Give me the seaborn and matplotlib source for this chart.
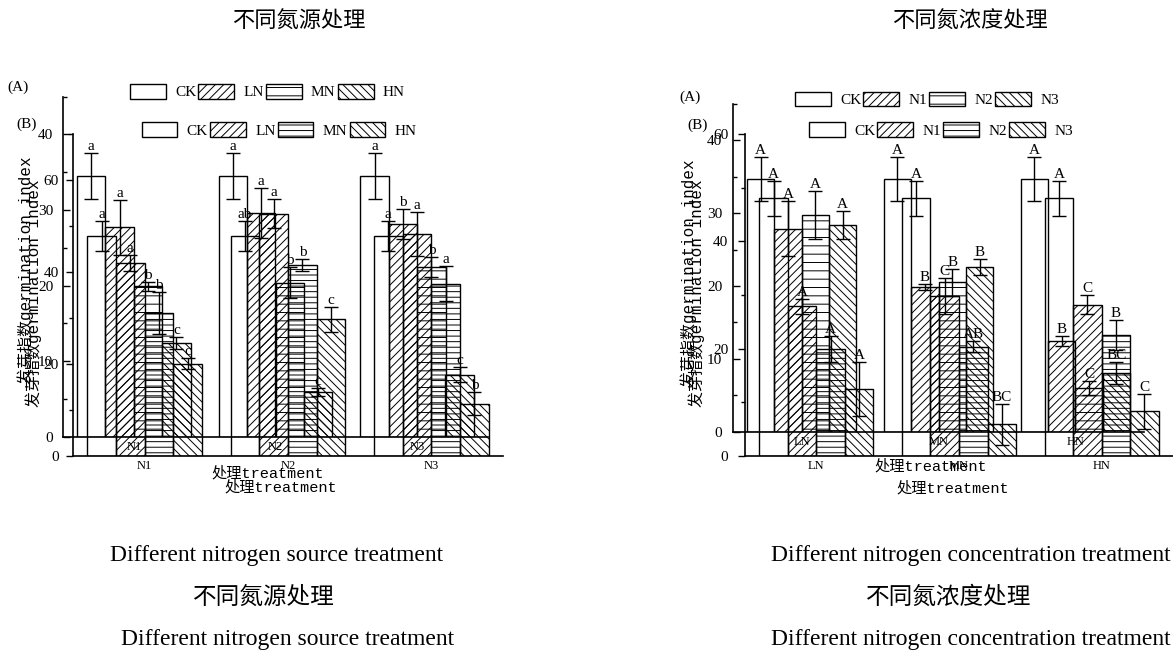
import numpy as np
import pandas as pd
import matplotlib
matplotlib.use("Agg")
import matplotlib.pyplot as plt
import seaborn as sns
from matplotlib.patches import Patch
from matplotlib.ticker import MultipleLocator

# ---------------- data ----------------
# left panel: different nitrogen source (groups N1..N3, treatments CK/LN/MN/HN)
src_groups = ["N1", "N2", "N3"]
src_treats = ["CK", "LN", "MN", "HN"]
# (A) layer
srcA_CK = [34.5, 34.5, 34.5]
srcA_LN = [27.7, 29.6, 28.2]
srcA_MN = [19.9, 20.4, 22.5]
srcA_HN = [12.4, 5.9, 8.2]
srcA_err_CK = [3.0, 3.0, 3.0]
srcA_err_LN = [3.6, 3.3, 2.0]
srcA_err_MN = [0.6, 2.0, 1.3]
srcA_err_HN = [0.8, 0.5, 1.0]
srcA_lab_CK = ["a", "a", "a"]
srcA_lab_LN = ["a", "a", "b"]
srcA_lab_MN = ["b", "b", "b"]
srcA_lab_HN = ["c", "c", "c"]
# (B) layer
srcB_CK = [47.9, 47.9, 47.9]
srcB_LN = [42.0, 52.7, 48.3]
srcB_MN = [31.0, 41.5, 37.5]
srcB_HN = [20.0, 29.7, 11.3]
srcB_err_CK = [3.3, 3.3, 3.3]
srcB_err_LN = [1.7, 3.2, 4.7]
srcB_err_MN = [4.6, 1.3, 3.8]
srcB_err_HN = [1.2, 2.7, 2.5]
srcB_lab_CK = ["a", "ab", "a"]
srcB_lab_LN = ["a", "a", "a"]
srcB_lab_MN = ["b", "b", "a"]
srcB_lab_HN = ["c", "c", "b"]

# right panel: different nitrogen concentration (groups LN/MN/HN, treatments CK/N1/N2/N3)
conc_groups = ["LN", "MN", "HN"]
conc_treats = ["CK", "N1", "N2", "N3"]
concA_CK = [34.7, 34.7, 34.7]
concA_N1 = [27.9, 19.9, 12.4]
concA_N2 = [29.75, 20.5, 6.0]
concA_N3 = [28.4, 22.6, 8.1]
concA_err_CK = [3.0, 3.0, 3.0]
concA_err_N1 = [3.8, 0.4, 0.7]
concA_err_N2 = [3.3, 1.9, 0.9]
concA_err_N3 = [1.9, 1.1, 1.5]
concA_lab_CK = ["A", "A", "A"]
concA_lab_N1 = ["A", "B", "B"]
concA_lab_N2 = ["A", "B", "C"]
concA_lab_N3 = ["A", "B", "BC"]
concB_CK = [48.0, 48.0, 48.0]
concB_N1 = [27.9, 29.8, 28.2]
concB_N2 = [19.9, 20.4, 22.6]
concB_N3 = [12.5, 5.9, 8.3]
concB_err_CK = [3.3, 3.3, 3.3]
concB_err_N1 = [1.4, 3.4, 1.8]
concB_err_N2 = [2.4, 1.0, 2.8]
concB_err_N3 = [5.1, 3.8, 3.3]
concB_lab_CK = ["A", "A", "A"]
concB_lab_N1 = ["A", "C", "C"]
concB_lab_N2 = ["A", "AB", "B"]
concB_lab_N3 = ["A", "BC", "C"]

ylabel_text = "发芽指数germination index"
xlabel_text = "处理treatment"

# ---------------- style ----------------
sns.set_theme(style="ticks")
plt.rcParams['font.family'] = ['Liberation Serif', 'Noto Sans CJK SC']
plt.rcParams['hatch.linewidth'] = 0.7
plt.rcParams['axes.unicode_minus'] = False
for k in ("text.color", "axes.labelcolor", "xtick.color", "ytick.color",
          "axes.edgecolor", "legend.labelcolor"):
    plt.rcParams[k] = "black"

W, H = 1173, 654
fig = plt.figure(figsize=(W / 100, H / 100), dpi=100)
fig.patch.set_facecolor("white")
MONO = ['Liberation Mono', 'Noto Sans CJK SC']
CJK = ['Noto Sans CJK SC', 'DejaVu Sans']


def px_axes(left, top, right, bottom):
    ax = fig.add_axes([left / W, 1 - bottom / H, (right - left) / W, (bottom - top) / H])
    ax.set_facecolor("none")
    return ax


def draw_layer(ax, groups, treats, vals, errs, labs, hatches, ylim, major, minor,
               ydir, ylen, ypad, xl, yl):
    rows = []
    for t, v in zip(treats, vals):
        for g, val in zip(groups, v):
            rows.append({"group": g, "treatment": t, "value": val})
    df = pd.DataFrame(rows)
    sns.barplot(data=df, x="group", y="value", hue="treatment", order=groups,
                hue_order=treats, palette=["white"] * len(treats), saturation=1,
                edgecolor="black", linewidth=1.0, errorbar=None, legend=False,
                width=0.8, ax=ax)
    for cont, h, e_list, l_list in zip(ax.containers, hatches, errs, labs):
        for bar, e, lab in zip(cont, e_list, l_list):
            bar.set_facecolor("none")
            bar.set_edgecolor("black")
            bar.set_hatch(h)
            x = bar.get_x() + bar.get_width() / 2
            y = bar.get_height()
            ax.errorbar(x, y, yerr=e, fmt="none", ecolor="black", elinewidth=1.0,
                        capsize=5, capthick=1.0, zorder=5)
            ax.annotate(lab, (x, y + e), xytext=(0, 0), textcoords="offset points",
                        ha="center", va="bottom", fontsize=11, color="black", zorder=6)
    ax.set_xlim(-0.5, len(groups) - 0.5)
    ax.set_ylim(*ylim)
    ax.yaxis.set_major_locator(MultipleLocator(major))
    ax.yaxis.set_minor_locator(MultipleLocator(minor))
    sns.despine(ax=ax)
    for s in ("left", "bottom"):
        ax.spines[s].set_linewidth(1.2)
        ax.spines[s].set_color("black")
    ax.tick_params(axis="y", which="major", left=True, direction=ydir, length=ylen,
                   width=1, pad=ypad, labelsize=11, colors="black")
    ax.tick_params(axis="y", which="minor", left=True, direction=ydir, length=3, width=1,
                   colors="black")
    ax.tick_params(axis="x", length=0, pad=3, labelsize=9, colors="black")
    ax.set_xlabel(xlabel_text, family=MONO, fontsize=11, va="center", color="black")
    ax.set_ylabel(ylabel_text, family=MONO, fontsize=11.5, va="center", color="black")
    ax.xaxis.set_label_coords(*xl)
    ax.yaxis.set_label_coords(*yl)


def legend_row(labels, hatches, x, y):
    handles = [Patch(facecolor="white", edgecolor="black", hatch=h, linewidth=1.0)
               for h in hatches]
    fig.legend(handles, labels, loc="center left", bbox_to_anchor=(x / W, 1 - y / H),
               bbox_transform=fig.transFigure, ncol=len(labels), frameon=False,
               fontsize=11, handlelength=2.34, handleheight=1.1, handletextpad=0.6,
               columnspacing=0.15, borderpad=0, borderaxespad=0, labelcolor="black")


hA = ["", "////", "--", "\\\\\\\\"]
hB = ["", "////", "---", "\\\\\\\\"]

# ---------------- left panel ----------------
axP = px_axes(73, 134.3, 503, 455.7)
draw_layer(axP, src_groups, src_treats,
           [srcB_CK, srcB_LN, srcB_MN, srcB_HN],
           [srcB_err_CK, srcB_err_LN, srcB_err_MN, srcB_err_HN],
           [srcB_lab_CK, srcB_lab_LN, srcB_lab_MN, srcB_lab_HN],
           hB, (0, 70), 20, 10, "out", 5, 5, (0.483, -0.098), (-0.092, 0.506))
axQ = px_axes(63, 96.7, 488, 436.7)
draw_layer(axQ, src_groups, src_treats,
           [srcA_CK, srcA_LN, srcA_MN, srcA_HN],
           [srcA_err_CK, srcA_err_LN, srcA_err_MN, srcA_err_HN],
           [srcA_lab_CK, srcA_lab_LN, srcA_lab_MN, srcA_lab_HN],
           hA, (0, 45), 10, 5, "in", 5, 7, (0.482, -0.108), (-0.089, 0.49))

# ---------------- right panel ----------------
axR2 = px_axes(745, 134, 1173, 456)
draw_layer(axR2, conc_groups, conc_treats,
           [concB_CK, concB_N1, concB_N2, concB_N3],
           [concB_err_CK, concB_err_N1, concB_err_N2, concB_err_N3],
           [concB_lab_CK, concB_lab_N1, concB_lab_N2, concB_lab_N3],
           hB, (0, 60), 20, 10, "out", 5, 7, (0.485, -0.100), (-0.113, 0.506))
axR1 = px_axes(733.3, 104, 1143.7, 431.7)
draw_layer(axR1, conc_groups, conc_treats,
           [concA_CK, concA_N1, concA_N2, concA_N3],
           [concA_err_CK, concA_err_N1, concA_err_N2, concA_err_N3],
           [concA_lab_CK, concA_lab_N1, concA_lab_N2, concA_lab_N3],
           hA, (0, 45), 10, 5, "in", 5, 8, (0.4805, -0.107), (-0.110, 0.484))

# legends
legend_row(src_treats, hA, 130, 91.7)
legend_row(src_treats, hB, 141.7, 130)
legend_row(conc_treats, hA, 795, 99.5)
legend_row(conc_treats, hB, 809, 130)

# panel tags
for txt, x, y in [("(A)", 18, 87), ("(B)", 27, 124), ("(A)", 690, 97), ("(B)", 698, 125)]:
    fig.text(x / W, 1 - y / H, txt, ha="center", va="center", fontsize=11, color="black")

# titles and captions
fig.text(299 / W, 1 - 20 / H, "不同氮源处理", ha="center", va="center",
         fontsize=16, family=CJK, color="black")
fig.text(970 / W, 1 - 20 / H, "不同氮浓度处理", ha="center", va="center",
         fontsize=16, family=CJK, color="black")
fig.text(277 / W, 1 - 555 / H, "Different nitrogen source treatment", ha="center",
         va="center", fontsize=17, color="black")
fig.text(263.5 / W, 1 - 597 / H, "不同氮源处理", ha="center", va="center",
         fontsize=17, family=CJK, color="black")
fig.text(288 / W, 1 - 639 / H, "Different nitrogen source treatment", ha="center",
         va="center", fontsize=17, color="black")
fig.text(771 / W, 1 - 555 / H, "Different nitrogen concentration treatment", ha="left",
         va="center", fontsize=17, color="black")
fig.text(948.5 / W, 1 - 597 / H, "不同氮浓度处理", ha="center", va="center",
         fontsize=17, family=CJK, color="black")
fig.text(771 / W, 1 - 639 / H, "Different nitrogen concentration treatment", ha="left",
         va="center", fontsize=17, color="black")

fig.savefig("out.png", dpi=100, facecolor="white")
